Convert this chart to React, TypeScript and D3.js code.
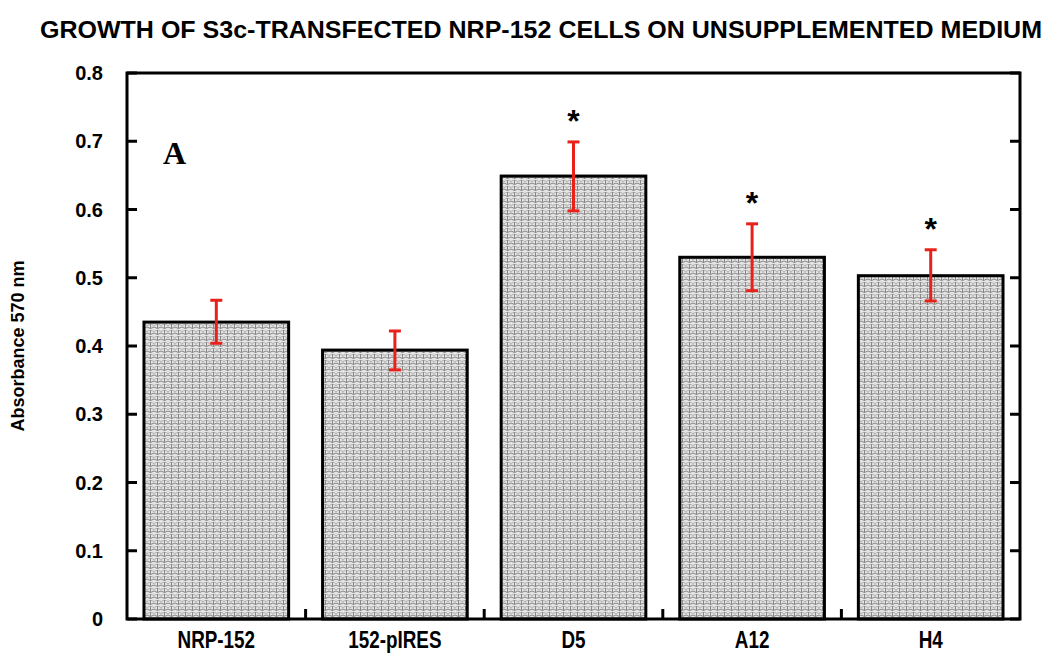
import React from "react";
import * as d3 from "d3";

const categories = ["NRP-152", "152-pIRES", "D5", "A12", "H4"];
const means = [0.435, 0.394, 0.649, 0.530, 0.503];
const errHigh = [0.467, 0.422, 0.699, 0.579, 0.541];
const errLow = [0.404, 0.365, 0.598, 0.481, 0.466];
const significant = [false, false, true, true, true];
const yTicks = [0, 0.1, 0.2, 0.3, 0.4, 0.5, 0.6, 0.7, 0.8];

const W = 1052, H = 656;
const M = { left: 127, right: 1020, top: 73, bottom: 619 };

export default function App() {
  const x = d3.scaleBand<string>().domain(categories).range([M.left, M.right]).paddingInner(0.19).paddingOuter(0.095);
  const xb = d3.scaleBand<string>().domain(categories).range([M.left, M.right]);
  const y = d3.scaleLinear().domain([0, 0.8]).range([M.bottom, M.top]);
  const sans = "'Liberation Sans', Arial, sans-serif";
  return (
    <svg width={W} height={H} style={{ position: "absolute", left: 0, top: 0 }}>
      <defs>
        <pattern id="scale" width="7" height="6" patternUnits="userSpaceOnUse">
          <rect width="7" height="6" fill="#e4e4e4" />
          <path d="M0,3 Q3.5,6 7,3 M3.5,0 L3.5,4.5" stroke="#7a7a7a" strokeWidth="0.9" fill="none" />
          <path d="M-3.5,0 Q0,3 3.5,0 M3.5,0 Q7,3 10.5,0" stroke="#9a9a9a" strokeWidth="0.7" fill="none" />
        </pattern>
      </defs>
      <rect width={W} height={H} fill="#fff" />
      <text x={541} y={38} textAnchor="middle" fontFamily={sans} fontWeight="bold" fontSize={24}
        textLength={1002} lengthAdjust="spacingAndGlyphs">
        GROWTH OF S3c-TRANSFECTED NRP-152 CELLS ON UNSUPPLEMENTED MEDIUM
      </text>
      {categories.map((c, i) => (
        <rect key={c} x={x(c)} y={y(means[i])} width={x.bandwidth()} height={y(0) - y(means[i])}
          fill="url(#scale)" stroke="#000" strokeWidth={3} />
      ))}
      {/* frame */}
      <rect x={M.left} y={M.top} width={M.right - M.left} height={M.bottom - M.top} fill="none" stroke="#000" strokeWidth={3} />
      {yTicks.map((t) => (
        <g key={t}>
          <line x1={M.left} x2={M.left + 10} y1={y(t)} y2={y(t)} stroke="#000" strokeWidth={3} />
          <line x1={M.right - 10} x2={M.right} y1={y(t)} y2={y(t)} stroke="#000" strokeWidth={3} />
          <text x={103} y={y(t) + 7} textAnchor="end" fontFamily={sans} fontWeight="bold" fontSize={20}>
            {t === 0 ? "0" : d3.format(".1f")(t)}
          </text>
        </g>
      ))}
      {categories.slice(1).map((c) => (
        <line key={c} x1={xb(c)} x2={xb(c)} y1={M.bottom} y2={M.bottom - 10} stroke="#000" strokeWidth={3} />
      ))}
      {categories.map((c, i) => {
        const cx = x(c)! + x.bandwidth() / 2;
        return (
          <g key={c}>
            <line x1={cx} x2={cx} y1={y(errHigh[i])} y2={y(errLow[i])} stroke="#e8211b" strokeWidth={3} />
            <line x1={cx - 6} x2={cx + 6} y1={y(errHigh[i])} y2={y(errHigh[i])} stroke="#e8211b" strokeWidth={3} />
            <line x1={cx - 6} x2={cx + 6} y1={y(errLow[i])} y2={y(errLow[i])} stroke="#e8211b" strokeWidth={3} />
            {significant[i] && (
              <text x={cx} y={y(errHigh[i]) - 10} textAnchor="middle" fontFamily={sans} fontWeight="bold" fontSize={32}>*</text>
            )}
            <text x={cx} y={648} textAnchor="middle" fontFamily={sans} fontWeight="bold" fontSize={23}
              transform={`translate(${cx},0) scale(0.82,1) translate(${-cx},0)`}>{c}</text>
          </g>
        );
      })}
      <text x={163} y={164} fontFamily="'Liberation Serif', 'DejaVu Serif', serif" fontWeight="bold" fontSize={32}>A</text>
      <text transform={`translate(24,${(M.top + M.bottom) / 2}) rotate(-90)`} textAnchor="middle"
        fontFamily={sans} fontWeight="bold" fontSize={18}>Absorbance 570 nm</text>
    </svg>
  );
}
